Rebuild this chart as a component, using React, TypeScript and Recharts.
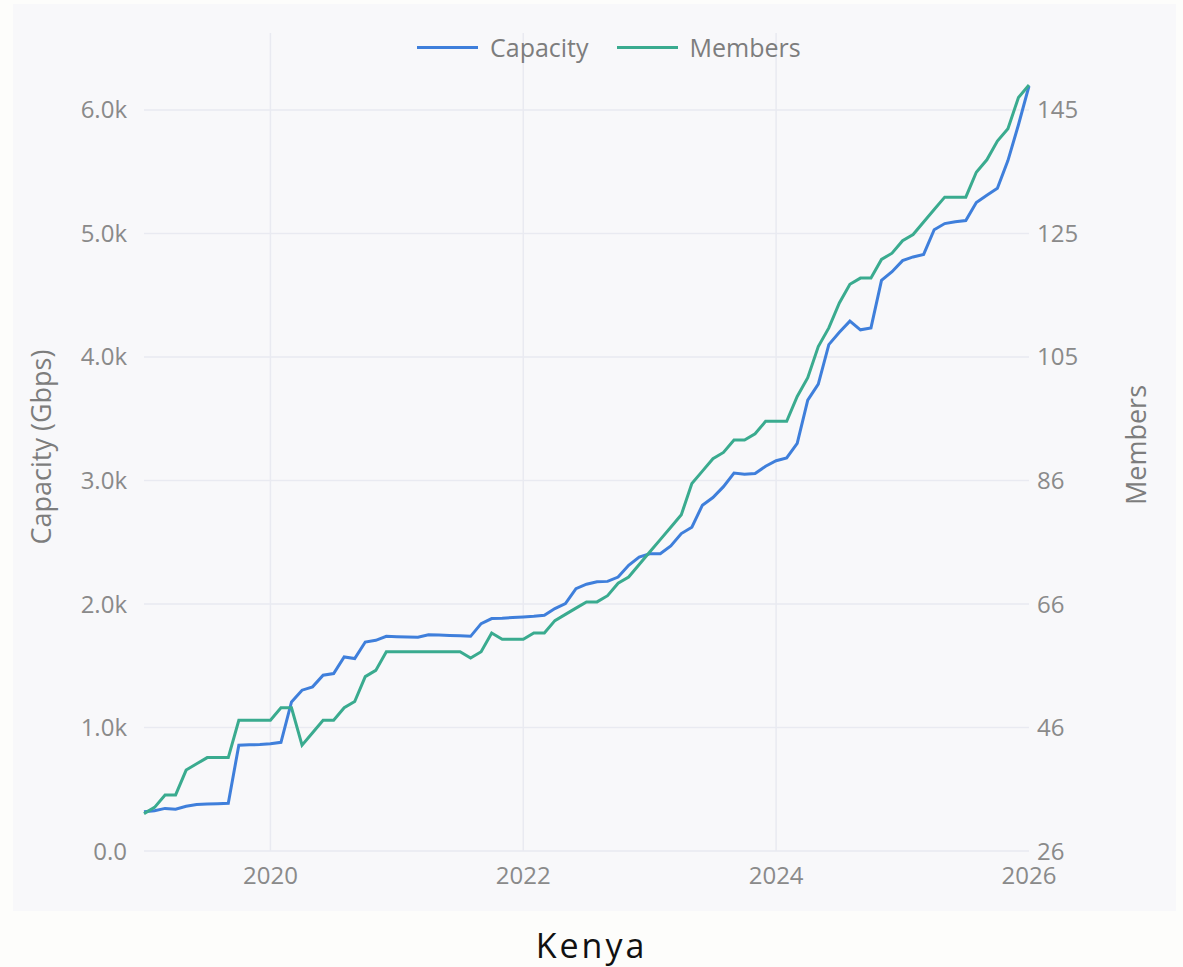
import { LineChart, Line, XAxis, YAxis, CartesianGrid } from 'recharts';

// monthly points, Jan 2019 .. Jan 2026
const startYear = 2019;

const capacity = [
  318, 326, 345, 338, 362, 376, 380, 383, 386, 857, 860, 862,
  868, 880, 1207, 1302, 1329, 1423, 1437, 1571, 1558, 1692, 1706, 1738,
  1735, 1732, 1730, 1750, 1748, 1745, 1742, 1738, 1841, 1882, 1885, 1890,
  1895, 1900, 1908, 1963, 2003, 2124, 2160, 2180, 2183, 2218, 2313, 2380,
  2407, 2407, 2470, 2570, 2622, 2800, 2862, 2950, 3060, 3050, 3057, 3115,
  3160, 3183, 3300, 3650, 3780, 4100, 4200, 4290, 4220, 4235, 4620, 4690,
  4780, 4810, 4830, 5030, 5080, 5095, 5105, 5250, 5310, 5365, 5590, 5880,
  6194,
];

const members = [
  32, 33, 35, 35, 39, 40, 41, 41, 41, 47, 47, 47,
  47, 49, 49, 43, 45, 47, 47, 49, 50, 54, 55, 58,
  58, 58, 58, 58, 58, 58, 58, 57, 58, 61, 60, 60,
  60, 61, 61, 63, 64, 65, 66, 66, 67, 69, 70, 72,
  74, 76, 78, 80, 85, 87, 89, 90, 92, 92, 93, 95,
  95, 95, 99, 102, 107, 110, 114, 117, 118, 118, 121, 122,
  124, 125, 127, 129, 131, 131, 131, 135, 137, 140, 142, 147,
  149,
];

const yearTicks = [2020, 2022, 2024, 2026];
const gridYears = [2020, 2022, 2024];
const capacityTicks = [0, 1000, 2000, 3000, 4000, 5000, 6000];
const memberTickLabels = [26, 46, 66, 86, 105, 125, 145];

const yearDomain = [2019, 2026];
const capacityMax = 6623;
const memberMin = 26;
const memberAt6k = 145;

const data = capacity.map((c, i) => ({
  t: startYear + i / 12,
  capacity: c,
  members: members[i],
}));

// right axis is scaled so its ticks sit on the left axis gridlines
const memberScale = (memberAt6k - memberMin) / 6000;
const memberTicks = capacityTicks.map((v) => memberMin + v * memberScale);
const memberDomain = [memberMin, memberMin + capacityMax * memberScale];

const BLUE = '#3f7fdb';
const GREEN = '#3aab8f';
const tickStyle = { fill: '#8a8a8a', fontSize: 24 };

const fmtCapacity = (v: number) => (v === 0 ? '0.0' : (v / 1000).toFixed(1) + 'k');

// grid only at inner year ticks and capacity ticks (no border lines)
const vGrid = ({ offset }: any) =>
  gridYears.map(
    (y) => offset.left + ((y - yearDomain[0]) / (yearDomain[1] - yearDomain[0])) * offset.width
  );
const hGrid = ({ offset }: any) =>
  capacityTicks.map((v) => offset.top + offset.height - (v / capacityMax) * offset.height);

export default function App() {
  return (
    <div
      style={{
        position: 'absolute',
        left: 0,
        top: 0,
        width: 1183,
        height: 967,
        background: '#fdfdfb',
        fontFamily: "'Open Sans', sans-serif",
      }}
    >
      <div
        style={{
          position: 'absolute',
          left: 13,
          top: 4,
          width: 1163,
          height: 907,
          background: '#f8f8fa',
        }}
      >
        <LineChart
          width={1163}
          height={907}
          data={data}
          margin={{ top: 29, right: 0, bottom: 20, left: 0 }}
        >
          <CartesianGrid
            yAxisId="left"
            stroke="#e9eaf1"
            strokeWidth={1.5}
            verticalCoordinatesGenerator={vGrid}
            horizontalCoordinatesGenerator={hGrid}
          />
          <XAxis
            dataKey="t"
            type="number"
            domain={yearDomain}
            ticks={yearTicks}
            interval={0}
            height={40}
            tickLine={false}
            axisLine={false}
            tickSize={0}
            tickMargin={16}
            tick={tickStyle}
          />
          <YAxis
            yAxisId="left"
            domain={[0, capacityMax]}
            ticks={capacityTicks}
            width={131}
            tickLine={false}
            axisLine={false}
            tickSize={0}
            tickMargin={17}
            tick={tickStyle}
            tickFormatter={fmtCapacity}
          />
          <YAxis
            yAxisId="right"
            orientation="right"
            domain={memberDomain}
            ticks={memberTicks}
            width={147}
            tickLine={false}
            axisLine={false}
            tickSize={0}
            tickMargin={8}
            tick={tickStyle}
            tickFormatter={(_v: number, i: number) => String(memberTickLabels[i])}
          />
          <Line
            yAxisId="left"
            type="linear"
            dataKey="capacity"
            name="Capacity"
            stroke={BLUE}
            strokeWidth={3}
            dot={false}
            isAnimationActive={false}
          />
          <Line
            yAxisId="right"
            type="linear"
            dataKey="members"
            name="Members"
            stroke={GREEN}
            strokeWidth={3}
            dot={false}
            isAnimationActive={false}
          />
        </LineChart>

        {/* legend */}
        <div
          style={{
            position: 'absolute',
            left: 404,
            top: 26,
            display: 'flex',
            alignItems: 'center',
            fontSize: 25,
            color: '#7d7d7d',
            lineHeight: '34px',
          }}
        >
          <span style={{ width: 61, height: 3, background: BLUE, marginRight: 12 }} />
          <span>Capacity</span>
          <span style={{ width: 61, height: 3, background: GREEN, marginLeft: 28, marginRight: 12 }} />
          <span>Members</span>
        </div>

        {/* axis titles */}
        <div
          style={{
            position: 'absolute',
            left: 27,
            top: 443,
            transform: 'translate(-50%, -50%) rotate(-90deg)',
            whiteSpace: 'nowrap',
            fontSize: 27,
            color: '#7d7d7d',
          }}
        >
          Capacity (Gbps)
        </div>
        <div
          style={{
            position: 'absolute',
            left: 1122,
            top: 441,
            transform: 'translate(-50%, -50%) rotate(-90deg)',
            whiteSpace: 'nowrap',
            fontSize: 27,
            color: '#7d7d7d',
          }}
        >
          Members
        </div>
      </div>

      <div
        style={{
          position: 'absolute',
          left: 0,
          top: 921,
          width: 1183,
          textAlign: 'center',
          fontSize: 34,
          lineHeight: '48px',
          letterSpacing: 3,
          color: '#111',
        }}
      >
        Kenya
      </div>
    </div>
  );
}
